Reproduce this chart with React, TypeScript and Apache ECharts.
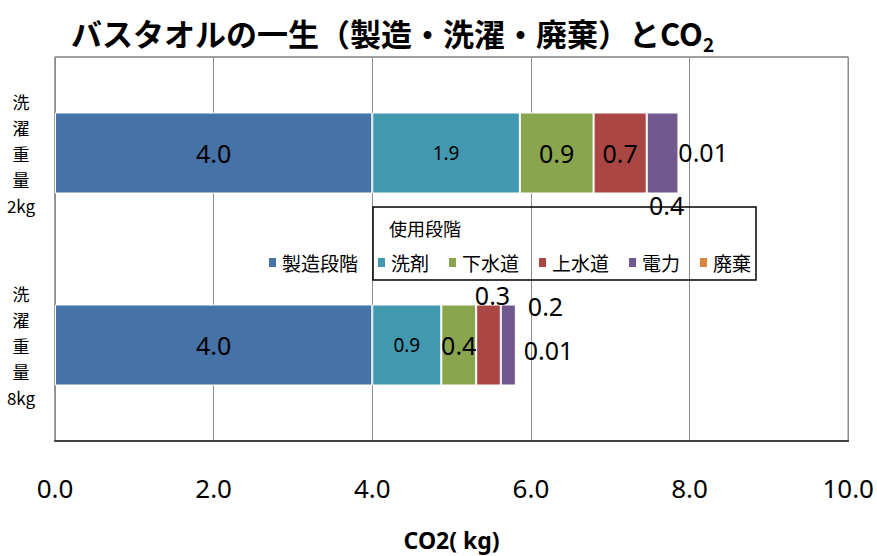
import React, { useEffect, useRef } from "react";
import * as echarts from "echarts";

const categories = ["洗\n濯\n重\n量\n2kg", "洗\n濯\n重\n量\n8kg"];
const seriesNames = ["製造段階", "洗剤", "下水道", "上水道", "電力", "廃棄"];
const manufacturing = [4.0, 4.0];
const detergent = [1.86, 0.87];
const sewer = [0.93, 0.44];
const waterSupply = [0.67, 0.31];
const electricity = [0.4, 0.19];
const disposal = [0.01, 0.01];
const xTicks = [0, 2, 4, 6, 8, 10];
const colors = ["#4572A7", "#4198AF", "#89A54E", "#AA4643", "#71588F", "#DB843D"];

const bigFont = 25;
const smallFont = 19;
const numFamily = "Noto Sans";

// label styles per series, per category (index 0 = 2kg, 1 = 8kg)
const labelStyles: any[][] = [
  [{ position: "inside", fontSize: bigFont }, { position: "inside", fontSize: bigFont }],
  [{ position: "inside", fontSize: smallFont }, { position: "inside", fontSize: smallFont }],
  [{ position: "inside", fontSize: bigFont }, { position: "inside", fontSize: bigFont }],
  [
    { position: "inside", fontSize: bigFont },
    { position: "top", distance: -3, offset: [4, 0], fontSize: bigFont },
  ],
  [
    { position: "bottom", distance: -1, offset: [4, 0], fontSize: bigFont },
    { position: "right", distance: 12, offset: [0, -39], fontSize: bigFont },
  ],
  [
    { position: "right", distance: -1, offset: [0, -1], fontSize: bigFont },
    { position: "right", distance: 7, offset: [0, 5], fontSize: bigFont },
  ],
];

const fmt = (v: number) => (v >= 0.1 ? v.toFixed(1) : v.toFixed(2));

export default function App() {
  const ref = useRef<HTMLDivElement>(null);
  useEffect(() => {
    if (!ref.current) return;
    const chart = echarts.init(ref.current, null, { renderer: "svg" });
    const allValues = [manufacturing, detergent, sewer, waterSupply, electricity, disposal];
    const series = allValues.map((vals, si) => ({
      name: seriesNames[si],
      type: "bar",
      stack: "total",
      barWidth: 81,
      itemStyle: { color: colors[si], borderColor: "#ffffff", borderWidth: 1 },
      data: vals.map((v, ci) => ({
        value: v,
        label: {
          show: true,
          color: "#000",
          fontFamily: numFamily,
          formatter: (p: any) => fmt(p.value),
          ...labelStyles[si][ci],
        },
      })),
    }));

    chart.setOption({
      animation: false,
      backgroundColor: "#ffffff",
      title: {
        text: "{a|バスタオルの一生（製造・洗濯・廃棄）とCO}{s|2}",
        left: 66,
        top: 6,
        textStyle: {
          rich: {
            a: {
              fontFamily: "Noto Sans CJK JP",
              fontWeight: "bold",
              fontSize: 31,
              lineHeight: 42,
              color: "#000",
            },
            s: {
              fontFamily: "Noto Sans CJK JP",
              fontWeight: "bold",
              fontSize: 19,
              lineHeight: 22,
              verticalAlign: "bottom",
              color: "#000",
            },
          },
        },
      },
      legend: {
        left: 262,
        top: 248,
        itemWidth: 9,
        itemHeight: 11,
        itemGap: 18,
        icon: "rect",
        data: seriesNames,
        textStyle: { fontFamily: "Noto Sans CJK JP", fontSize: 19, color: "#000" },
      },
      grid: {
        left: 55,
        right: 27,
        top: 57,
        bottom: 106,
        show: true,
        borderColor: "#404040",
        borderWidth: 1,
      },
      xAxis: {
        type: "value",
        min: xTicks[0],
        max: xTicks[xTicks.length - 1],
        interval: 2,
        axisLine: { show: true, lineStyle: { color: "#404040", width: 2 } },
        axisTick: { show: false },
        splitLine: { show: true, lineStyle: { color: "#8c8c8c", width: 1 } },
        axisLabel: {
          margin: 34,
          fontFamily: numFamily,
          fontSize: 26,
          color: "#000",
          formatter: (v: number) => v.toFixed(1),
        },
        name: "CO2( kg)",
        nameLocation: "middle",
        nameGap: 87,
        nameTextStyle: { fontFamily: numFamily, fontWeight: "bold", fontSize: 23, color: "#000" },
      },
      yAxis: {
        type: "category",
        inverse: true,
        data: categories,
        axisLine: { show: true, lineStyle: { color: "#8c8c8c" } },
        axisTick: { show: false },
        axisLabel: {
          margin: 34,
          align: "center",
          fontFamily: "Noto Sans CJK JP",
          fontSize: 17,
          lineHeight: 26,
          color: "#000",
        },
      },
      graphic: [
        {
          type: "rect",
          shape: { x: 373, y: 207, width: 383, height: 73 },
          style: { fill: "none", stroke: "#000", lineWidth: 1.5 },
          z: 1,
        },
        {
          type: "text",
          x: 389,
          y: 228,
          style: {
            text: "使用段階",
            fontFamily: "Noto Sans CJK JP",
            fontSize: 18,
            fill: "#000",
            verticalAlign: "middle",
          },
        },
      ],
      series,
    });
    return () => chart.dispose();
  }, []);
  return <div ref={ref} style={{ width: 877, height: 556, position: "absolute", left: 0, top: 0 }} />;
}
